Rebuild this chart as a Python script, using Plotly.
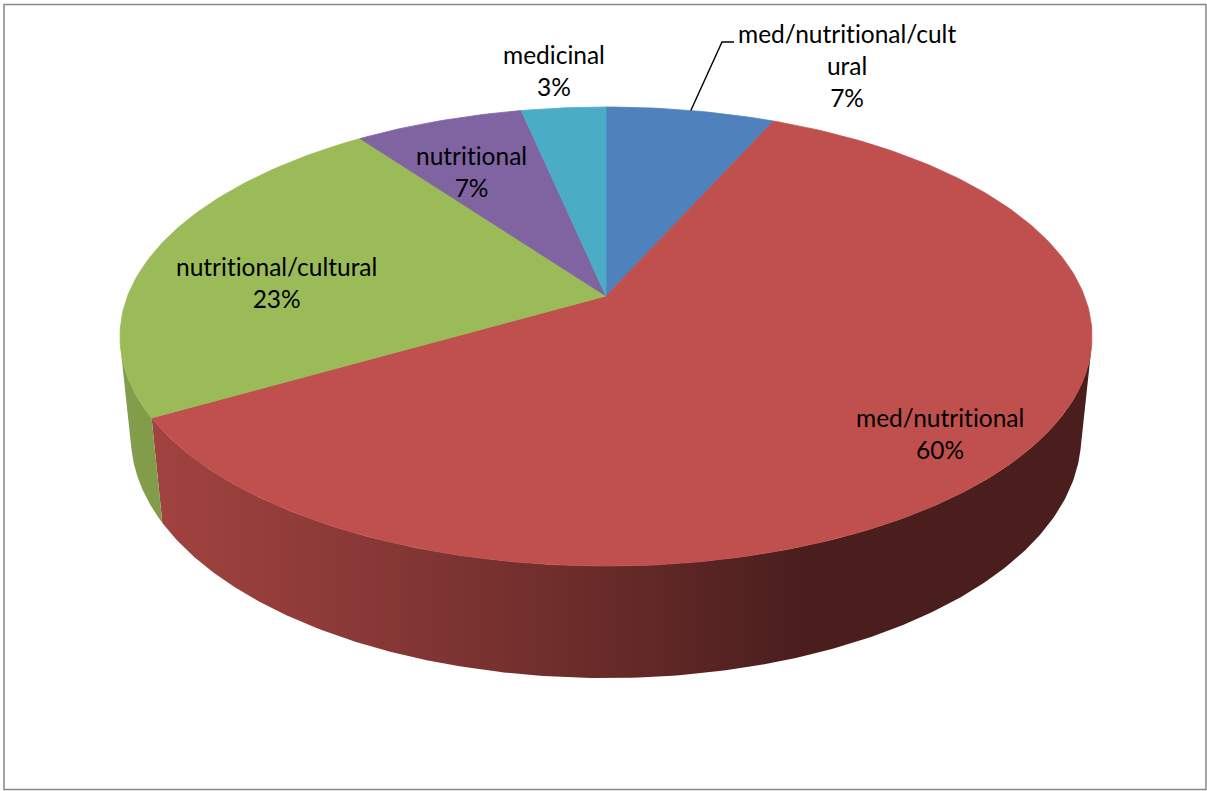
import numpy as np
import plotly.graph_objects as go

# ---- data -------------------------------------------------------------
categories = ["med/nutritional/cultural", "med/nutritional",
              "nutritional/cultural", "nutritional", "medicinal"]
counts = [2, 18, 7, 2, 1]
label_lines = ["med/nutritional/cult<br>ural", "med/nutritional",
               "nutritional/cultural", "nutritional", "medicinal"]
slice_colors = ["#4F81BD", "#C0504D", "#9BBB59", "#8064A2", "#4BACC6"]

# label anchors (screen px, text-block centres)
label_x = [847, 940, 276, 471, 554]
label_y = [65, 433, 282, 171, 70]

# ---- pie geometry (unit radius disc seen in perspective) ---------------
CX, CY = 606.0, 296.0      # screen position of the pie centre
ALPHA = np.arcsin(0.4648)  # elevation of the viewer
DIST = 5.017               # camera distance (in radii)
FOCAL = 2400.0             # focal length in px
THICK = 0.2377             # disc thickness (in radii)


def project(X, Y, Z):
    depth = DIST + Z * np.cos(ALPHA) - Y * np.sin(ALPHA)
    yc = Y * np.cos(ALPHA) + Z * np.sin(ALPHA)
    return CX + FOCAL * X / depth, CY - FOCAL * yc / depth


def rim(theta, y=0.0):
    return project(np.sin(theta), np.full_like(theta, y), np.cos(theta))


def hex_rgb(h):
    h = h.lstrip("#")
    return tuple(int(h[i:i + 2], 16) for i in (0, 2, 4))


def no_ligatures(s):
    # keep Lato from fusing "ti" into a single glyph
    return s.replace("ti", "t\u200ci")


# side-wall lighting: light comes from the front-left
LIGHT = np.array([-0.94, -0.34])


def brightness(theta):
    dot = np.sin(theta) * LIGHT[0] + np.cos(theta) * LIGHT[1]
    return 0.385 + 0.46 * np.clip(dot, 0, None)


total = sum(counts)
edges = 2 * np.pi * np.concatenate([[0], np.cumsum(counts)]) / total
pcts = [round(100 * c / total) for c in counts]

# visible part of the outer wall
c_sil = 1.0 / (DIST * np.cos(ALPHA))
vis_lo = np.arccos(-c_sil)
vis_hi = 2 * np.pi - vis_lo

fig = go.Figure()

# side walls
for i in range(len(counts)):
    a = max(edges[i], vis_lo)
    b = min(edges[i + 1], vis_hi)
    if b <= a:
        continue
    th = np.linspace(a, b, 200)
    tx, ty = rim(th, 0.0)
    bx, by = rim(th[::-1], -THICK)
    xs = np.concatenate([tx, bx, tx[:1]])
    ys = np.concatenate([ty, by, ty[:1]])

    # horizontal shading: sample brightness along the wall (left -> right)
    ths = np.linspace(b, a, 40)
    sx, _ = rim(ths, 0.0)
    x0, x1 = sx.min(), sx.max()
    r, g, bb = hex_rgb(slice_colors[i])
    stops = []
    for t, xv in zip(ths, sx):
        k = brightness(t)
        pos = 0.0 if x1 == x0 else (xv - x0) / (x1 - x0)
        stops.append([float(np.clip(pos, 0, 1)),
                      f"rgb({int(r * k)},{int(g * k)},{int(bb * k)})"])
    stops[0][0] = 0.0
    stops[-1][0] = 1.0
    fig.add_trace(go.Scatter(
        x=xs, y=ys, mode="lines", fill="toself",
        line=dict(width=0), hoverinfo="skip",
        fillgradient=dict(type="horizontal", colorscale=stops,
                          start=x0, stop=x1),
    ))

# top faces
for i in range(len(counts)):
    n = max(int(400 * counts[i] / total), 20)
    th = np.linspace(edges[i], edges[i + 1], n)
    rx, ry = rim(th, 0.0)
    xs = np.concatenate([[CX], rx, [CX]])
    ys = np.concatenate([[CY], ry, [CY]])
    fig.add_trace(go.Scatter(
        x=xs, y=ys, mode="lines", fill="toself",
        fillcolor=slice_colors[i],
        line=dict(width=0.8, color=slice_colors[i]),
        name=categories[i], hoverinfo="name",
    ))

# leader line for the small blue slice
mid0 = 0.5 * (edges[0] + edges[1])
lx, ly = rim(np.array([mid0]), 0.0)
fig.add_trace(go.Scatter(
    x=[lx[0], 722, 734], y=[ly[0], 42, 42], mode="lines",
    line=dict(color="black", width=1.4), hoverinfo="skip",
))

for i in range(len(counts)):
    fig.add_annotation(
        x=label_x[i], y=label_y[i], xref="x", yref="y",
        text=f"{no_ligatures(label_lines[i])}<br>{pcts[i]}%", showarrow=False,
        align="center", xanchor="center", yanchor="middle",
        font=dict(family="Lato", size=24.5, color="black"),
    )

fig.add_shape(type="rect", xref="x", yref="y", x0=4, x1=1206, y0=4.5, y1=789.5,
              line=dict(color="#878787", width=1.5), fillcolor="rgba(0,0,0,0)")

fig.update_layout(
    width=1207, height=791, margin=dict(l=0, r=0, t=0, b=0),
    paper_bgcolor="white", plot_bgcolor="white", showlegend=False,
    xaxis=dict(range=[0, 1207], visible=False),
    yaxis=dict(range=[791, 0], visible=False),
)

fig.write_html("out.html")
